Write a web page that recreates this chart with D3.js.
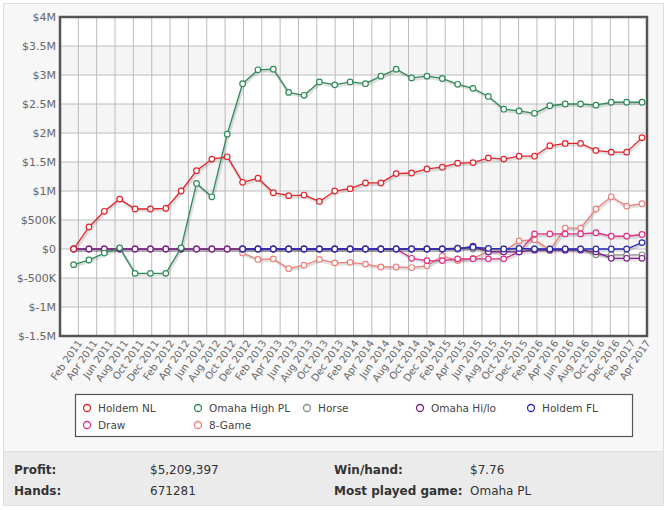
<!DOCTYPE html>
<html>
<head>
<meta charset="utf-8">
<script src="https://cdn.jsdelivr.net/npm/d3@7"></script>
<style>
  body { margin: 0; background: #fff; font-family: "DejaVu Sans", Verdana, sans-serif; }
  svg text { font-family: "DejaVu Sans", Verdana, sans-serif; }
</style>
</head>
<body>
<svg id="chart" width="667" height="510"></svg>
<script>
// months, every two months
var months = [];
var mNames = ["Feb", "Apr", "Jun", "Aug", "Oct", "Dec"];
for (var y = 2011; y <= 2017; y++) {
  for (var m = 0; m < 6; m++) {
    if (y == 2017 && m > 1) break;
    months.push(mNames[m] + " " + y);
  }
}

var yTicks = [4, 3.5, 3, 2.5, 2, 1.5, 1, 0.5, 0, -0.5, -1, -1.5];
var yTickLabels = ["$4M", "$3.5M", "$3M", "$2.5M", "$2M", "$1.5M", "$1M", "$500K", "$0", "$-500K", "$-1M", "$-1.5M"];

var holdemNL = [0, 0.38, 0.65, 0.86, 0.69, 0.69, 0.7, 1.0, 1.35, 1.55, 1.59, 1.15, 1.22, 0.97, 0.92, 0.93, 0.82, 1.0,
  1.04, 1.14, 1.14, 1.3, 1.31, 1.38, 1.41, 1.48, 1.49, 1.57, 1.55, 1.6, 1.6, 1.78, 1.82, 1.82, 1.70, 1.67, 1.67, 1.92];
var omahaPL = [-0.27, -0.19, -0.07, 0.02, -0.42, -0.42, -0.42, 0.02, 1.13, 0.9, 1.98, 2.85, 3.09, 3.1, 2.7, 2.65, 2.88, 2.83,
  2.88, 2.85, 2.98, 3.1, 2.95, 2.98, 2.94, 2.84, 2.77, 2.63, 2.41, 2.38, 2.34, 2.47, 2.5, 2.5, 2.48, 2.53, 2.53, 2.53];
var horse = [0, 0, 0, 0, 0, 0, 0, 0, 0, 0, 0, 0, 0, 0, 0, 0, 0, 0, 0, 0, 0, 0, 0, 0, 0, 0.02, 0, 0, 0, 0, 0, 0, 0, 0,
  -0.1, -0.1, -0.1, -0.1];
var omahaHiLo = [0, 0, 0, 0, 0, 0, 0, 0, 0, 0, 0, 0, 0, 0, 0, 0, 0, 0, 0, 0, 0, 0, 0, 0, 0, 0, 0.05, -0.05, -0.05, -0.05,
  -0.02, -0.02, -0.02, -0.02, -0.05, -0.16, -0.16, -0.16];
var holdemFL = [null, null, null, null, null, null, null, null, null, null, null, 0, 0, 0, 0, 0, 0, 0, 0, 0, 0, 0, 0, 0,
  0, 0.01, 0.03, 0.01, 0, 0.01, 0, 0, 0, 0, 0, 0, 0, 0.11];
var draw = [0, 0, 0, 0, 0, 0, 0, 0, 0, 0, 0, 0, 0, 0, 0, 0, 0, 0, 0, 0, 0, 0, -0.16, -0.2, -0.2, -0.17, -0.17, -0.17,
  -0.17, -0.05, 0.26, 0.26, 0.26, 0.26, 0.28, 0.22, 0.22, 0.25];
var eightGame = [null, null, null, null, null, null, null, null, null, null, null, -0.07, -0.18, -0.17, -0.34, -0.28, -0.18,
  -0.24, -0.23, -0.26, -0.31, -0.31, -0.32, -0.29, -0.12, -0.2, -0.16, -0.04, -0.04, 0.14, 0.16, -0.02, 0.36, 0.36, 0.69,
  0.9, 0.74, 0.78];

var seriesNames = ["Holdem NL", "Omaha High PL", "Horse", "Omaha Hi/lo", "Holdem FL", "Draw", "8-Game"];
var seriesData = [holdemNL, omahaPL, horse, omahaHiLo, holdemFL, draw, eightGame];
var seriesColors = ["#e3242b", "#2e8b57", "#8a8a8a", "#7b1f8a", "#2a2ab8", "#e0308a", "#f07f7a"];
var drawOrder = [6, 5, 2, 3, 4, 0, 1];

var svg = d3.select("#chart");

// outer panels
svg.append("rect").attr("x", 3.5).attr("y", 3.5).attr("width", 660).attr("height", 448)
  .attr("fill", "#f7f7f7").attr("stroke", "#dedede");
svg.append("rect").attr("x", 3.5).attr("y", 451.5).attr("width", 660).attr("height", 54)
  .attr("fill", "#ebebeb").attr("stroke", "#dedede");

var x0 = 60, x1 = 647, yTop = 17, yBot = 336;
var x = d3.scalePoint().domain(months).range([73.6, 642]);
var y = d3.scaleLinear().domain([-1.5, 4]).range([yBot, yTop]);

svg.append("rect").attr("x", x0).attr("y", yTop).attr("width", x1 - x0).attr("height", yBot - yTop).attr("fill", "#fff");

// bands
for (var i = 0; i < yTicks.length - 1; i++) {
  if (i % 2 == 1) {
    svg.append("rect").attr("x", x0).attr("y", y(yTicks[i])).attr("width", x1 - x0)
      .attr("height", y(yTicks[i + 1]) - y(yTicks[i])).attr("fill", "#f5f5f5");
  }
}

// grid
var vg = d3.range(1, 32).map(function(d) { return x0 + d * (x1 - x0) / 32; });
svg.append("g").selectAll("line").data(vg).join("line")
  .attr("x1", function(d) { return d; }).attr("x2", function(d) { return d; })
  .attr("y1", yTop).attr("y2", yBot).attr("stroke", "#bbb").attr("stroke-width", 1);
svg.append("g").selectAll("line").data(yTicks).join("line")
  .attr("x1", x0).attr("x2", x1)
  .attr("y1", function(d) { return y(d); }).attr("y2", function(d) { return y(d); })
  .attr("stroke", "#bbb").attr("stroke-width", 1);

// y labels
svg.append("g").selectAll("text").data(yTicks).join("text")
  .attr("x", 56).attr("y", function(d) { return y(d) + 4; })
  .attr("text-anchor", "end").attr("font-size", 11).attr("fill", "#666")
  .text(function(d, i) { return yTickLabels[i]; });

// x labels
svg.append("g").selectAll("text").data(months).join("text")
  .attr("transform", function(d) { return "translate(" + (x(d) + 9) + ",343) rotate(-55)"; })
  .attr("text-anchor", "end").attr("font-size", 10).attr("fill", "#666")
  .text(function(d) { return d; });

// series
var line = d3.line()
  .defined(function(d) { return d != null; })
  .x(function(d, i) { return x(months[i]); })
  .y(function(d) { return y(d); });

drawOrder.forEach(function(s) {
  var g = svg.append("g");
  g.append("path").datum(seriesData[s]).attr("d", line)
    .attr("fill", "none").attr("stroke", "#000").attr("stroke-opacity", 0.12)
    .attr("stroke-width", 3).attr("transform", "translate(1,1.5)");
  g.append("path").datum(seriesData[s]).attr("d", line)
    .attr("fill", "none").attr("stroke", seriesColors[s]).attr("stroke-width", 1.3);
  g.selectAll("circle").data(seriesData[s].map(function(v, i) { return [i, v]; })
      .filter(function(d) { return d[1] != null; }))
    .join("circle")
    .attr("cx", function(d) { return x(months[d[0]]); })
    .attr("cy", function(d) { return y(d[1]); })
    .attr("r", 2.8).attr("fill", "#fff").attr("stroke", seriesColors[s]).attr("stroke-width", 1.2);
});

// plot border
svg.append("rect").attr("x", x0).attr("y", yTop).attr("width", x1 - x0).attr("height", yBot - yTop)
  .attr("fill", "none").attr("stroke", "#555").attr("stroke-width", 2.5);

// legend
svg.append("rect").attr("x", 75.5).attr("y", 394.5).attr("width", 557).attr("height", 42)
  .attr("fill", "#fff").attr("stroke", "#555").attr("stroke-width", 1.2);
var legPos = [[87, 408], [198, 408], [307, 408], [420, 408], [531, 408], [87, 425], [198, 425]];
var lg = svg.append("g").selectAll("g").data(seriesNames).join("g")
  .attr("transform", function(d, i) { return "translate(" + legPos[i][0] + "," + legPos[i][1] + ")"; });
lg.append("circle").attr("r", 3.5).attr("fill", "#fff")
  .attr("stroke", function(d, i) { return seriesColors[i]; }).attr("stroke-width", 1.3);
lg.append("text").attr("x", 11).attr("y", 4).attr("font-size", 10.5).attr("fill", "#444")
  .text(function(d) { return d; });

// stats table
var stats = [["Profit:", "$5,209,397", "Win/hand:", "$7.76", 474], ["Hands:", "671281", "Most played game:", "Omaha PL", 495]];
stats.forEach(function(r) {
  var t = svg.append("g").attr("font-family", "'Liberation Sans', Arial, sans-serif").attr("font-size", 12).attr("fill", "#333");
  t.append("text").attr("x", 14).attr("y", r[4]).attr("font-weight", "bold").text(r[0]);
  t.append("text").attr("x", 150).attr("y", r[4]).text(r[1]);
  t.append("text").attr("x", 334).attr("y", r[4]).attr("font-weight", "bold").text(r[2]);
  t.append("text").attr("x", 470).attr("y", r[4]).text(r[3]);
});
</script>
</body>
</html>
